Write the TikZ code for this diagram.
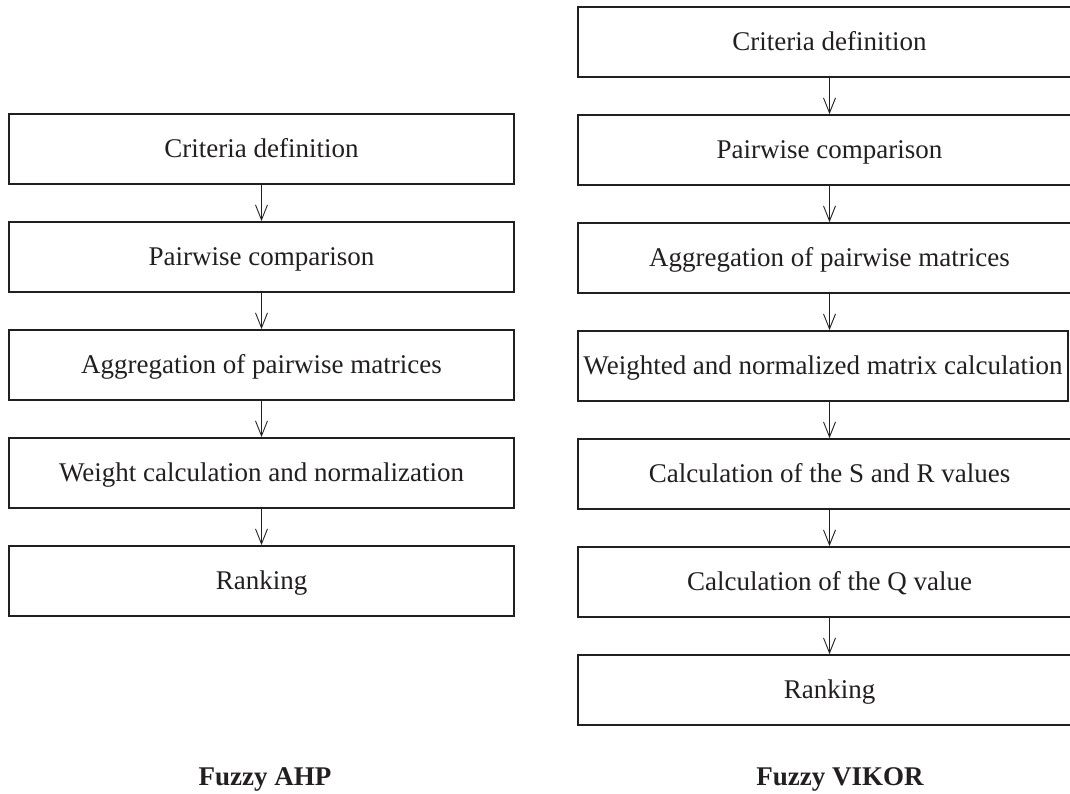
\documentclass[tikz,border=0pt]{standalone}
\usepackage{fontspec}
\setmainfont{Liberation Serif}
\usetikzlibrary{arrows.meta}
\definecolor{ink}{RGB}{35,31,32}
\tikzset{
  stepbox/.style={draw=ink, line width=1.8pt, rectangle, inner sep=0pt,
    minimum height=70pt, text height=17.9pt, text depth=0pt, text=ink,
    font=\fontsize{27}{32}\selectfont},
  lbox/.style={stepbox, minimum width=505pt},
  rbox/.style={stepbox, minimum width=503pt},
  arr/.style={draw=ink, line width=0.9pt, -{Straight Barb[length=15pt,width=12pt,line width=0.9pt]}},
  title/.style={text=ink, anchor=base, font=\fontsize{27}{32}\selectfont\bfseries}
}
\begin{document}
\begin{tikzpicture}[x=1pt,y=-1pt]
\useasboundingbox (0,0) rectangle (1070,793);
\clip (0,0) rectangle (1070,793);
\fill[white] (0,0) rectangle (1070,793);
% left column: Fuzzy AHP
\node[lbox] (l1) at (261.5,149) {Criteria definition};
\node[lbox] (l2) at (261.5,257) {Pairwise comparison};
\node[lbox] (l3) at (261.5,365) {Aggregation of pairwise matrices};
\node[lbox] (l4) at (261.5,473) {Weight calculation and normalization};
\node[lbox] (l5) at (261.5,581) {Ranking};
\draw[arr] (l1.south) -- (l2.north);
\draw[arr] (l2.south) -- (l3.north);
\draw[arr] (l3.south) -- (l4.north);
\draw[arr] (l4.south) -- (l5.north);
\node[title] (tl) at (265,785) {Fuzzy AHP};
% right column: Fuzzy VIKOR
\node[rbox] (r1) at (829.5,42) {Criteria definition};
\node[rbox] (r2) at (829.5,150) {Pairwise comparison};
\node[rbox] (r3) at (829.5,258) {Aggregation of pairwise matrices};
\node[stepbox, minimum width=490pt] (r4) at (823,366) {Weighted and normalized matrix calculation};
\node[rbox] (r5) at (829.5,474) {Calculation of the S and R values};
\node[rbox] (r6) at (829.5,582) {Calculation of the Q value};
\node[rbox] (r7) at (829.5,690) {Ranking};
\draw[arr] (r1.south) -- (r2.north);
\draw[arr] (r2.south) -- (r3.north);
\draw[arr] (r3.south) -- (r3.south |- r4.north);
\draw[arr] (r3.south |- r4.south) -- (r5.north);
\draw[arr] (r5.south) -- (r6.north);
\draw[arr] (r6.south) -- (r7.north);
\node[title] (tr) at (840,785) {Fuzzy VIKOR};
\end{tikzpicture}
\end{document}
